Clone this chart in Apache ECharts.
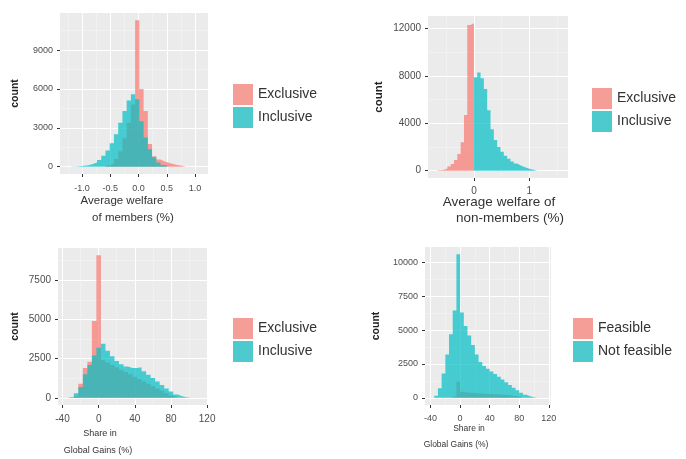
<!DOCTYPE html>
<html><head><meta charset="utf-8">
<script src="https://cdn.jsdelivr.net/npm/echarts@6/dist/echarts.min.js"></script>
<style>html,body{margin:0;padding:0;background:#fff}#c{width:686px;height:459px}</style>
</head><body><div id="c"></div>
<script>
// ---------- Panel 1: Average welfare of members (%) ----------
const p1Width = 0.075;
const p1ExclusiveStart = -0.585;
const p1Exclusive = [100, 250, 600, 1200, 2200, 3400, 4800, 11300, 6000, 4300, 1750, 800, 550, 400, 300, 200, 130, 70, 30];
const p1InclusiveStart = -1.185;
const p1Inclusive = [20, 40, 70, 120, 200, 330, 520, 850, 1250, 1800, 2500, 3400, 4300, 5100, 5600, 5200, 3500, 2250, 1350, 720, 330, 130, 50];
const p1XTicks = [-1, -0.5, 0, 0.5, 1];
const p1XMinor = [-1.25, -0.75, -0.25, 0.25, 0.75];
const p1YTicks = [0, 3000, 6000, 9000];
const p1YMinor = [1500, 4500, 7500, 10500];

// ---------- Panel 2: Average welfare of non-members (%) ----------
const p2Width = 0.06;
const p2ExclusiveStart = -0.66;
const p2Exclusive = [30, 80, 180, 350, 560, 900, 1400, 2400, 4700, 12300, 12450];
const p2InclusiveStart = 0;
const p2Inclusive = [7900, 8300, 7800, 6900, 5100, 3500, 2600, 2000, 1600, 1250, 1000, 780, 600, 450, 330, 230, 140, 70, 30];
const p2XTicks = [0, 1];
const p2XMinor = [-0.5, 0.5, 1.5];
const p2YTicks = [0, 4000, 8000, 12000];
const p2YMinor = [2000, 6000, 10000];

// ---------- Panel 3: Share in Global Gains (%) ----------
const p3Width = 5;
const p3ExclusiveStart = -27.5;
const p3Exclusive = [100, 900, 1900, 2300, 4900, 9100, 2400, 2250, 2100, 1950, 1800, 1650, 1500, 1350, 1200, 1050, 900, 750, 600, 450, 300, 150, 50];
const p3InclusiveStart = -32.5;
const p3Inclusive = [50, 300, 700, 1500, 2100, 2700, 3200, 3450, 3000, 2650, 2350, 2150, 2000, 1900, 1900, 1950, 1700, 1480, 1260, 1040, 820, 600, 400, 220, 100, 40, 15];
const p3XTicks = [-40, 0, 40, 80, 120];
const p3XMinor = [-20, 20, 60, 100];
const p3YTicks = [0, 2500, 5000, 7500];
const p3YMinor = [1250, 3750, 6250, 8750];

// ---------- Panel 4: Share in Global Gains (%), feasibility ----------
const p4Width = 5;
const p4FeasibleStart = -10;
const p4Feasible = [100, 1200, 450, 400, 380, 360, 340, 320, 300, 290, 280, 260, 240, 220, 200, 170, 140, 100, 50];
const p4NotFeasibleStart = -35;
const p4NotFeasible = [150, 700, 1800, 3200, 4700, 6450, 10600, 6300, 5300, 4600, 3900, 3200, 2650, 2350, 2150, 1950, 1750, 1550, 1350, 1150, 950, 750, 560, 380, 220, 110, 50, 20];
const p4XTicks = [-40, 0, 40, 80, 120];
const p4XMinor = [-20, 20, 60, 100];
const p4YTicks = [0, 2500, 5000, 7500, 10000];
const p4YMinor = [1250, 3750, 6250, 8750];

const FONT = '"Liberation Sans", Arial, sans-serif';
const RED = '#F8766D', TEAL = '#00BFC4';
const RED_KEY = '#F59E97', TEAL_KEY = '#4DCACD';

function hist(name, axis, start, width, counts, color) {
  const pts = counts.map((c, i) => [start + i * width, c]);
  pts.push([start + counts.length * width, counts[counts.length - 1]]);
  return {
    type: 'line', name: name, xAxisIndex: axis, yAxisIndex: axis,
    step: 'end', data: pts, symbol: 'none', showSymbol: false, silent: true,
    lineStyle: { width: 0, color: color }, itemStyle: { color: color },
    areaStyle: { color: color, opacity: 0.7, origin: 0 }
  };
}

const grids = [
  { left: 60, top: 13, width: 148, height: 161 },
  { left: 428, top: 16, width: 140, height: 162 },
  { left: 58, top: 248, width: 150, height: 157 },
  { left: 425, top: 247, width: 126, height: 158 }
];
const panels = [
  { x: [-1.39, 1.23], xt: p1XTicks, xm: p1XMinor, y: [-565, 11865], yt: p1YTicks, ym: p1YMinor, fs: 9, xmg: 10, fmt: v => Number(v).toFixed(1), cg: 39, cfs: 10.5 },
  { x: [-0.83, 1.70], xt: p2XTicks, xm: p2XMinor, y: [-620, 13070], yt: p2YTicks, ym: p2YMinor, fs: 10, xmg: 8, fmt: v => String(v), cg: 43, cfs: 11.5 },
  { x: [-45, 121], xt: p3XTicks, xm: p3XMinor, y: [-455, 9555], yt: p3YTicks, ym: p3YMinor, fs: 10, xmg: 9, fmt: v => String(v), cg: 37, cfs: 10.5 },
  { x: [-47.5, 123], xt: p4XTicks, xm: p4XMinor, y: [-530, 11130], yt: p4YTicks, ym: p4YMinor, fs: 9, xmg: 9, fmt: v => String(v), cg: 43, cfs: 10.5 }
];

const xAxis = [], yAxis = [];
panels.forEach((p, g) => {
  xAxis.push({
    type: 'value', gridIndex: g, min: p.x[0], max: p.x[1], position: 'bottom',
    axisLine: { show: false, onZero: false },
    axisTick: { show: true, length: 3, lineStyle: { color: '#333' }, customValues: p.xt },
    axisLabel: { customValues: p.xt, fontSize: p.fs, color: '#4D4D4D', fontFamily: FONT, margin: p.xmg, formatter: p.fmt },
    splitLine: { show: true, lineStyle: { color: '#fff', width: 1 } }
  });
  yAxis.push({
    type: 'value', gridIndex: g, min: p.y[0], max: p.y[1], position: 'left',
    name: 'count', nameLocation: 'middle', nameRotate: 90, nameGap: p.cg,
    nameTextStyle: { fontSize: p.cfs, fontWeight: 'bold', color: '#222', fontFamily: FONT },
    axisLine: { show: false, onZero: false },
    axisTick: { show: true, length: 3, lineStyle: { color: '#333' }, customValues: p.yt },
    axisLabel: { customValues: p.yt, fontSize: p.fs, color: '#4D4D4D', fontFamily: FONT, margin: 7, formatter: v => String(v) },
    splitLine: { show: true, lineStyle: { color: '#fff', width: 1 } }
  });
});
panels.forEach((p, g) => {
  xAxis.push({
    type: 'value', gridIndex: g, min: p.x[0], max: p.x[1], position: 'top',
    axisLine: { show: false, onZero: false }, axisTick: { show: false, customValues: p.xm },
    axisLabel: { show: false, customValues: p.xm },
    splitLine: { show: true, lineStyle: { color: '#F5F5F5', width: 0.6 } }
  });
  yAxis.push({
    type: 'value', gridIndex: g, min: p.y[0], max: p.y[1], position: 'right',
    axisLine: { show: false, onZero: false }, axisTick: { show: false, customValues: p.ym },
    axisLabel: { show: false, customValues: p.ym },
    splitLine: { show: true, lineStyle: { color: '#F5F5F5', width: 0.6 } }
  });
});

const series = [
  hist('Exclusive', 0, p1ExclusiveStart, p1Width, p1Exclusive, RED),
  hist('Inclusive', 0, p1InclusiveStart, p1Width, p1Inclusive, TEAL),
  hist('Exclusive', 1, p2ExclusiveStart, p2Width, p2Exclusive, RED),
  hist('Inclusive', 1, p2InclusiveStart, p2Width, p2Inclusive, TEAL),
  hist('Exclusive', 2, p3ExclusiveStart, p3Width, p3Exclusive, RED),
  hist('Inclusive', 2, p3InclusiveStart, p3Width, p3Inclusive, TEAL),
  hist('Feasible', 3, p4FeasibleStart, p4Width, p4Feasible, RED),
  hist('Not feasible', 3, p4NotFeasibleStart, p4Width, p4NotFeasible, TEAL)
];

function legendAt(left, top, a, b) {
  return {
    left: left, top: top, padding: 0, orient: 'vertical', icon: 'rect', itemWidth: 20, itemHeight: 21, itemGap: 2,
    selectedMode: false, textStyle: { fontSize: 14, color: '#333', fontFamily: FONT },
    data: [{ name: a, itemStyle: { color: RED_KEY } }, { name: b, itemStyle: { color: TEAL_KEY } }]
  };
}

function title(x, y, text, size) {
  return { type: 'text', x: x, y: y, style: { text: text, fill: '#333', font: size + 'px ' + FONT, textAlign: 'center', textVerticalAlign: 'middle' } };
}

const chart = echarts.init(document.getElementById('c'), null, { renderer: 'canvas' });
chart.setOption({
  animation: false,
  backgroundColor: '#fff',
  grid: grids.map(g => Object.assign({ show: true, backgroundColor: '#EBEBEB', borderWidth: 0, containLabel: false }, g)),
  xAxis: xAxis,
  yAxis: yAxis,
  legend: [
    legendAt(233, 84, 'Exclusive', 'Inclusive'),
    legendAt(592, 88, 'Exclusive', 'Inclusive'),
    legendAt(233, 318, 'Exclusive', 'Inclusive'),
    legendAt(573, 318, 'Feasible', 'Not feasible')
  ],
  graphic: [
    title(122, 201, 'Average welfare', 11.5),
    title(133, 218, 'of members (%)', 11.5),
    title(499, 202, 'Average welfare of', 13.5),
    title(510, 218, 'non-members (%)', 13.5),
    title(100, 434, 'Share in', 9),
    title(98, 451, 'Global Gains (%)', 9),
    title(469, 429, 'Share in', 8.5),
    title(456, 445, 'Global Gains (%)', 8.5)
  ],
  series: series
});
</script></body></html>
